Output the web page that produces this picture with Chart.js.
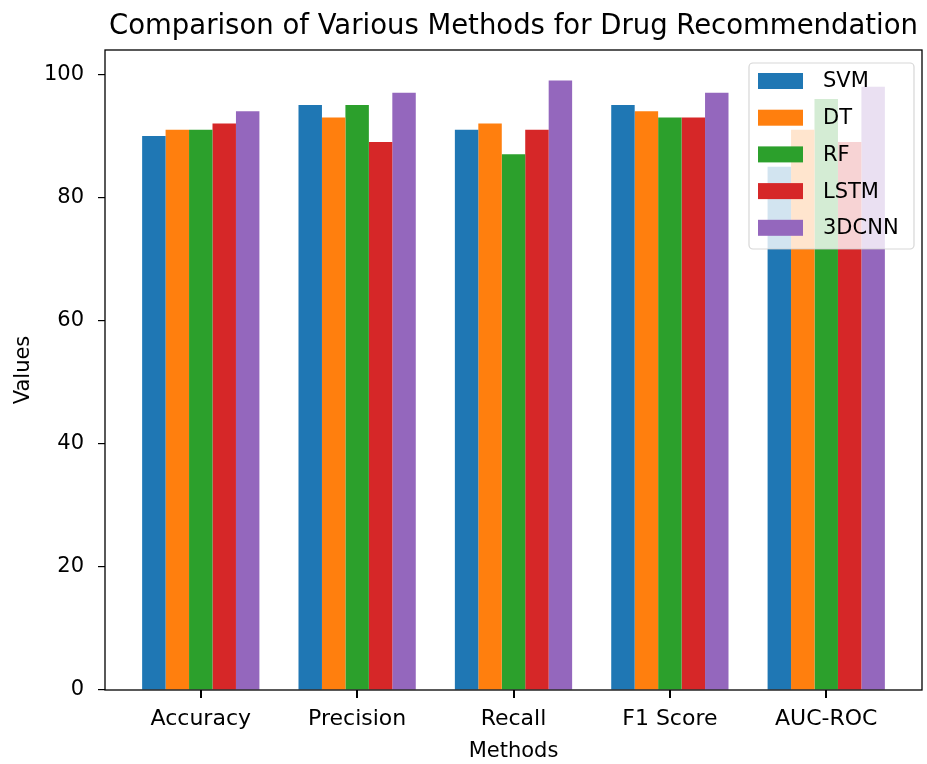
<!DOCTYPE html>
<html>
<head>
<meta charset="utf-8">
<script src="https://cdn.jsdelivr.net/npm/chart.js@4.4.0/dist/chart.umd.min.js"></script>
<style>
  html, body { margin: 0; padding: 0; background: #fff; }
  #wrap { width: 927px; height: 764px; }
</style>
</head>
<body>
<div id="wrap"><canvas id="chart"></canvas></div>
<script>
// data
const categories = ['Accuracy', 'Precision', 'Recall', 'F1 Score', 'AUC-ROC'];
const svmValues = [90, 95, 91, 95, 85];
const dtValues = [91, 93, 92, 94, 91];
const rfValues = [91, 95, 87, 93, 96];
const lstmValues = [92, 89, 91, 93, 89];
const cnnValues = [94, 97, 99, 97, 98];
const yTicks = [0, 20, 40, 60, 80, 100];

const FONT = "'DejaVu Sans', sans-serif";

function toPoints(values) {
    return values.map((v, i) => ({ x: i, y: v }));
}

// frame around plot area (matplotlib style)
const framePlugin = {
    id: 'frame',
    afterDatasetsDraw(chart) {
        const a = chart.chartArea;
        const ctx = chart.ctx;
        ctx.save();
        ctx.strokeStyle = '#000';
        ctx.lineWidth = 1.3;
        ctx.strokeRect(a.left, a.top, a.right - a.left, a.bottom - a.top);
        ctx.restore();
    },
    afterDraw(chart) {
        // x tick marks under each category
        const a = chart.chartArea;
        const ctx = chart.ctx;
        const xScale = chart.scales.x;
        ctx.save();
        ctx.fillStyle = '#000';
        for (let i = 0; i < categories.length; i++) {
            const px = Math.round(xScale.getPixelForValue(i));
            ctx.fillRect(px - 1, a.bottom, 2, 8);
        }
        ctx.restore();
    }
};

// legend drawn inside the plot, upper right
const innerLegend = {
    id: 'innerLegend',
    afterDraw(chart) {
        const ctx = chart.ctx;
        const a = chart.chartArea;
        const sets = chart.data.datasets;
        const boxW = 165, rowH = 36.7;
        const boxH = 186;
        const x0 = a.right - 8 - boxW;
        const y0 = 63;
        ctx.save();
        ctx.beginPath();
        ctx.roundRect(x0, y0, boxW, boxH, 4);
        ctx.fillStyle = 'rgba(255,255,255,0.8)';
        ctx.fill();
        ctx.strokeStyle = 'rgba(204,204,204,0.8)';
        ctx.lineWidth = 1.2;
        ctx.stroke();
        ctx.font = '21px ' + FONT;
        ctx.textBaseline = 'middle';
        sets.forEach((ds, i) => {
            const cy = y0 + 18 + i * rowH;
            ctx.fillStyle = ds.backgroundColor;
            ctx.fillRect(x0 + 9, cy - 8, 45, 16);
            ctx.fillStyle = '#000';
            ctx.fillText(ds.label, x0 + 74, cy + 1);
        });
        ctx.restore();
    }
};

const ctx = document.getElementById('chart').getContext('2d');
new Chart(ctx, {
    type: 'bar',
    data: {
        datasets: [
            { label: 'SVM', data: toPoints(svmValues), backgroundColor: '#1f77b4' },
            { label: 'DT', data: toPoints(dtValues), backgroundColor: '#ff7f0e' },
            { label: 'RF', data: toPoints(rfValues), backgroundColor: '#2ca02c' },
            { label: 'LSTM', data: toPoints(lstmValues), backgroundColor: '#d62728' },
            { label: '3DCNN', data: toPoints(cnnValues), backgroundColor: '#9467bd' }
        ]
    },
    options: {
        responsive: true,
        maintainAspectRatio: false,
        animation: false,
        categoryPercentage: 0.75,
        barPercentage: 1.0,
        layout: { padding: { left: 0, right: 5, top: 0, bottom: 0 } },
        scales: {
            x: {
                type: 'linear',
                min: -0.6125,
                max: 4.6125,
                offset: false,
                afterFit(scale) { scale.height = 74; },
                grid: {
                    display: false,
                    offset: false,
                    drawOnChartArea: false,
                    tickLength: 7
                },
                border: { display: false },
                ticks: {
                    stepSize: 1,
                    includeBounds: false,
                    autoSkip: false,
                    maxRotation: 0,
                    padding: 9,
                    color: '#000',
                    font: { family: FONT, size: 22 },
                    callback: v => categories[v]
                },
                title: {
                    display: true,
                    text: 'Methods',
                    color: '#000',
                    font: { family: FONT, size: 21 },
                    padding: { top: 0, bottom: 0 }
                }
            },
            y: {
                min: 0,
                max: 103.95,
                afterFit(scale) { scale.width = 105; },
                afterBuildTicks(scale) { scale.ticks = yTicks.map(v => ({ value: v })); },
                grid: {
                    display: true,
                    drawOnChartArea: false,
                    drawTicks: true,
                    tickLength: 7,
                    color: '#000',
                    lineWidth: 1.2
                },
                border: { display: false },
                ticks: {
                    padding: 14,
                    color: '#000',
                    font: { family: FONT, size: 21 }
                },
                title: {
                    display: true,
                    text: 'Values',
                    color: '#000',
                    font: { family: FONT, size: 21 },
                    padding: { top: 11, bottom: 4 }
                }
            }
        },
        plugins: {
            legend: { display: false },
            tooltip: { enabled: false },
            title: {
                display: true,
                fullSize: false,
                text: 'Comparison of Various Methods for Drug Recommendation',
                color: '#000',
                font: { family: FONT, size: 27.5, weight: 'normal', lineHeight: 1.2 },
                padding: { top: 10, bottom: 7 }
            }
        }
    },
    plugins: [framePlugin, innerLegend]
});
</script>
</body>
</html>
